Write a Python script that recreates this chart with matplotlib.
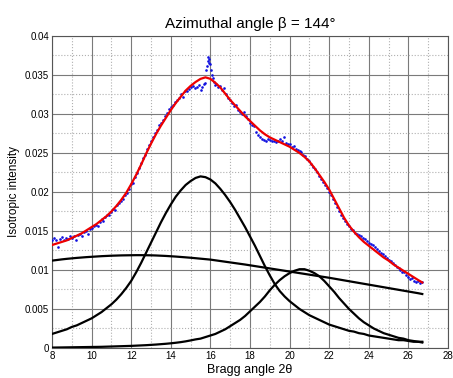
import numpy as np
import matplotlib
matplotlib.use("Agg")
import matplotlib.pyplot as plt
from matplotlib.ticker import MultipleLocator

plt.rcParams['font.family'] = ['Liberation Sans', 'DejaVu Sans']

# component / fit curves sampled every 0.25 degree (last point at 26.7)
x_curve = [8.0, 8.25, 8.5, 8.75, 9.0, 9.25, 9.5, 9.75, 10.0, 10.25, 10.5, 10.75,
           11.0, 11.25, 11.5, 11.75, 12.0, 12.25, 12.5, 12.75, 13.0, 13.25, 13.5, 13.75,
           14.0, 14.25, 14.5, 14.75, 15.0, 15.25, 15.5, 15.75, 16.0, 16.25, 16.5, 16.75,
           17.0, 17.25, 17.5, 17.75, 18.0, 18.25, 18.5, 18.75, 19.0, 19.25, 19.5, 19.75,
           20.0, 20.25, 20.5, 20.75, 21.0, 21.25, 21.5, 21.75, 22.0, 22.25, 22.5, 22.75,
           23.0, 23.25, 23.5, 23.75, 24.0, 24.25, 24.5, 24.75, 25.0, 25.25, 25.5, 25.75,
           26.0, 26.25, 26.5, 26.7]

fit_total = [0.0132, 0.0134, 0.0136, 0.0138, 0.0141, 0.0144, 0.0147, 0.0151, 0.0155, 0.0159,
             0.0164, 0.0169, 0.0175, 0.0182, 0.0190, 0.0199, 0.0210, 0.0222, 0.0235, 0.0249,
             0.0262, 0.0274, 0.0285, 0.0295, 0.0305, 0.0314, 0.0322, 0.0330, 0.0336, 0.0341,
             0.0345, 0.0347, 0.0345, 0.0340, 0.0334, 0.0326, 0.0318, 0.0311, 0.0304, 0.0297,
             0.0291, 0.0285, 0.0279, 0.0274, 0.0270, 0.0267, 0.0264, 0.0261, 0.0258, 0.0254,
             0.0250, 0.0245, 0.0239, 0.0231, 0.0222, 0.0213, 0.0203, 0.0191, 0.0179, 0.0167,
             0.0157, 0.0149, 0.0142, 0.0136, 0.0131, 0.0126, 0.0121, 0.0116, 0.0112, 0.0107,
             0.0103, 0.0099, 0.0095, 0.0091, 0.0087, 0.0084]

peak_main = [0.0018, 0.0020, 0.0022, 0.0024, 0.0027, 0.0029, 0.0032, 0.0035, 0.0038, 0.0042,
             0.0046, 0.0051, 0.0056, 0.0062, 0.0069, 0.0077, 0.0086, 0.0097, 0.0109, 0.0122,
             0.0135, 0.0148, 0.0161, 0.0173, 0.0184, 0.0194, 0.0202, 0.0209, 0.0214, 0.0218,
             0.0220, 0.0219, 0.0216, 0.0211, 0.0204, 0.0196, 0.0187, 0.0177, 0.0166, 0.0155,
             0.0143, 0.0131, 0.0118, 0.0105, 0.0093, 0.0082, 0.0073, 0.0066, 0.0060, 0.0055,
             0.0050, 0.0046, 0.0042, 0.0039, 0.0036, 0.0033, 0.0030, 0.0028, 0.0026, 0.0024,
             0.0022, 0.0021, 0.0019, 0.0018, 0.0016, 0.0015, 0.0014, 0.0013, 0.0012, 0.0011,
             0.0010, 0.0010, 0.0009, 0.0008, 0.0008, 0.0007]

peak_small = [0.00005, 0.00006, 0.00007, 0.00008, 0.00009, 0.0001, 0.00011, 0.00012, 0.00013,
              0.00014, 0.00015, 0.00017, 0.00019, 0.00021, 0.00023, 0.00025, 0.00027, 0.0003,
              0.00033, 0.00036, 0.0004, 0.00044, 0.00049, 0.00054, 0.0006, 0.00067, 0.00075,
              0.00085, 0.00097, 0.0011, 0.0012, 0.0014, 0.0016, 0.0018, 0.0021, 0.0024,
              0.0028, 0.0032, 0.0036, 0.0041, 0.0047, 0.0053, 0.0059, 0.0066, 0.0074, 0.0081,
              0.0087, 0.0092, 0.0096, 0.0099, 0.0101, 0.0101, 0.0099, 0.0096, 0.0092, 0.0086,
              0.0079, 0.0072, 0.0064, 0.0057, 0.0050, 0.0044, 0.0038, 0.0033, 0.0029, 0.0025,
              0.0022, 0.0019, 0.0017, 0.0015, 0.0013, 0.0012, 0.0010, 0.0009, 0.0008, 0.0008]

broad = [0.01120, 0.01128, 0.01136, 0.01143, 0.01149, 0.01155, 0.01160, 0.01165, 0.01169,
         0.01173, 0.01177, 0.01180, 0.01183, 0.01185, 0.01187, 0.01188, 0.01189, 0.01190,
         0.01190, 0.01189, 0.01188, 0.01186, 0.01183, 0.01180, 0.01176, 0.01172, 0.01167,
         0.01162, 0.01157, 0.01151, 0.01145, 0.01139, 0.01133, 0.01124, 0.01115, 0.01106,
         0.01097, 0.01088, 0.01079, 0.01070, 0.01060, 0.01050, 0.01040, 0.01030, 0.01020,
         0.01010, 0.01000, 0.00990, 0.00980, 0.00970, 0.00960, 0.00950, 0.00940, 0.00930,
         0.00920, 0.00910, 0.00900, 0.00889, 0.00878, 0.00867, 0.00856, 0.00845, 0.00834,
         0.00823, 0.00812, 0.00801, 0.00790, 0.00779, 0.00768, 0.00757, 0.00746, 0.00735,
         0.00724, 0.00713, 0.00702, 0.00692]

# measured intensities, sampled every 0.1 degree from 8.0 to 26.7
data_start, data_step = 8.0, 0.1
data_y = [0.0138, 0.0141, 0.0139, 0.0129, 0.0140, 0.0142, 0.0139, 0.0141, 0.0140, 0.0143,
          0.0141, 0.0144, 0.0138, 0.0145, 0.0146, 0.0144, 0.0149, 0.0150, 0.0146, 0.0153,
          0.0154, 0.0156, 0.0158, 0.0157, 0.0161, 0.0165, 0.0163, 0.0168, 0.0171, 0.0170,
          0.0174, 0.0178, 0.0177, 0.0183, 0.0186, 0.0189, 0.0191, 0.0196, 0.0199, 0.0204,
          0.0210, 0.0212, 0.0219, 0.0224, 0.0231, 0.0237, 0.0243, 0.0248, 0.0255, 0.0260,
          0.0265, 0.0270, 0.0276, 0.0279, 0.0286, 0.0289, 0.0292, 0.0298, 0.0301, 0.0306,
          0.0309, 0.0311, 0.0316, 0.0318, 0.0321, 0.0326, 0.0322, 0.0329, 0.0330, 0.0332,
          0.0334, 0.0336, 0.0333, 0.0335, 0.0337, 0.0331, 0.0334, 0.0338, 0.0356, 0.0373,
          0.0364, 0.0350, 0.0341, 0.0338, 0.0335, 0.0336, 0.0331, 0.0333, 0.0326, 0.0321,
          0.0318, 0.0314, 0.0310, 0.0312, 0.0305, 0.0303, 0.0300, 0.0303, 0.0297, 0.0294,
          0.0289, 0.0286, 0.0284, 0.0277, 0.0273, 0.0271, 0.0268, 0.0267, 0.0266, 0.0268,
          0.0267, 0.0265, 0.0266, 0.0264, 0.0266, 0.0268, 0.0266, 0.0270, 0.0263, 0.0261,
          0.0262, 0.0258, 0.0259, 0.0255, 0.0254, 0.0252, 0.0251, 0.0247, 0.0246, 0.0242,
          0.0240, 0.0236, 0.0232, 0.0229, 0.0225, 0.0220, 0.0217, 0.0213, 0.0209, 0.0205,
          0.0200, 0.0196, 0.0191, 0.0186, 0.0181, 0.0176, 0.0171, 0.0167, 0.0163, 0.0159,
          0.0156, 0.0152, 0.0151, 0.0148, 0.0146, 0.0145, 0.0144, 0.0141, 0.0140, 0.0137,
          0.0135, 0.0133, 0.0132, 0.0129, 0.0127, 0.0124, 0.0122, 0.0121, 0.0118, 0.0116,
          0.0113, 0.0112, 0.0109, 0.0106, 0.0104, 0.0102, 0.0100, 0.0098, 0.0097, 0.0094,
          0.0091, 0.0089, 0.0090, 0.0086, 0.0085, 0.0086, 0.0083, 0.0084]

# extra points around the sharp spike
spike_x = [15.74, 15.84, 15.87, 15.92, 15.95, 16.04, 16.14, 16.24]
spike_y = [0.0340, 0.0362, 0.0368, 0.0371, 0.0366, 0.0357, 0.0346, 0.0337]

x_ticks = [8, 10, 12, 14, 16, 18, 20, 22, 24, 26, 28]
y_ticks = [0, 0.005, 0.01, 0.015, 0.02, 0.025, 0.03, 0.035, 0.04]
y_tick_labels = ['0', '0.005', '0.01', '0.015', '0.02', '0.025', '0.03', '0.035', '0.04']

data_x = data_start + data_step * np.arange(len(data_y))

fig = plt.figure(figsize=(4.53, 3.78), dpi=100)
ax = fig.add_axes([0.1148, 0.0794, 0.8742, 0.8254])

ax.set_xlim(8, 28)
ax.set_ylim(0, 0.04)
ax.set_xticks(x_ticks)
ax.set_yticks(y_ticks)
ax.set_yticklabels(y_tick_labels)
ax.xaxis.set_minor_locator(MultipleLocator(1))
ax.yaxis.set_minor_locator(MultipleLocator(0.0025))
ax.grid(which='major', color='#7a7a7a', linestyle='-', linewidth=0.8)
ax.grid(which='minor', color='#b0b0b0', linestyle=':', linewidth=0.8)
ax.set_axisbelow(True)
ax.tick_params(which='both', direction='in', length=0, labelsize=7, pad=2)
for s in ax.spines.values():
    s.set_color('#555555')
    s.set_linewidth(0.8)

ax.plot(x_curve, peak_main, color='black', lw=1.6, zorder=3)
ax.plot(x_curve, peak_small, color='black', lw=1.6, zorder=3)
ax.plot(x_curve, broad, color='black', lw=1.6, zorder=3)

ax.plot(data_x, data_y, linestyle='none', marker='o', markersize=1.9,
        color='#1010e0', markeredgewidth=0, zorder=4)
ax.plot(spike_x, spike_y, linestyle='none', marker='o', markersize=1.9,
        color='#1010e0', markeredgewidth=0, zorder=4)

ax.plot(x_curve, fit_total, color='#ee0000', lw=1.6, zorder=5)

ax.set_title('Azimuthal angle β = 144°', fontsize=11, pad=6)
ax.set_xlabel('Bragg angle 2θ', fontsize=9, labelpad=2)
ax.set_ylabel('Isotropic intensity', fontsize=8.5, labelpad=4)

fig.savefig('out.png', dpi=100)
